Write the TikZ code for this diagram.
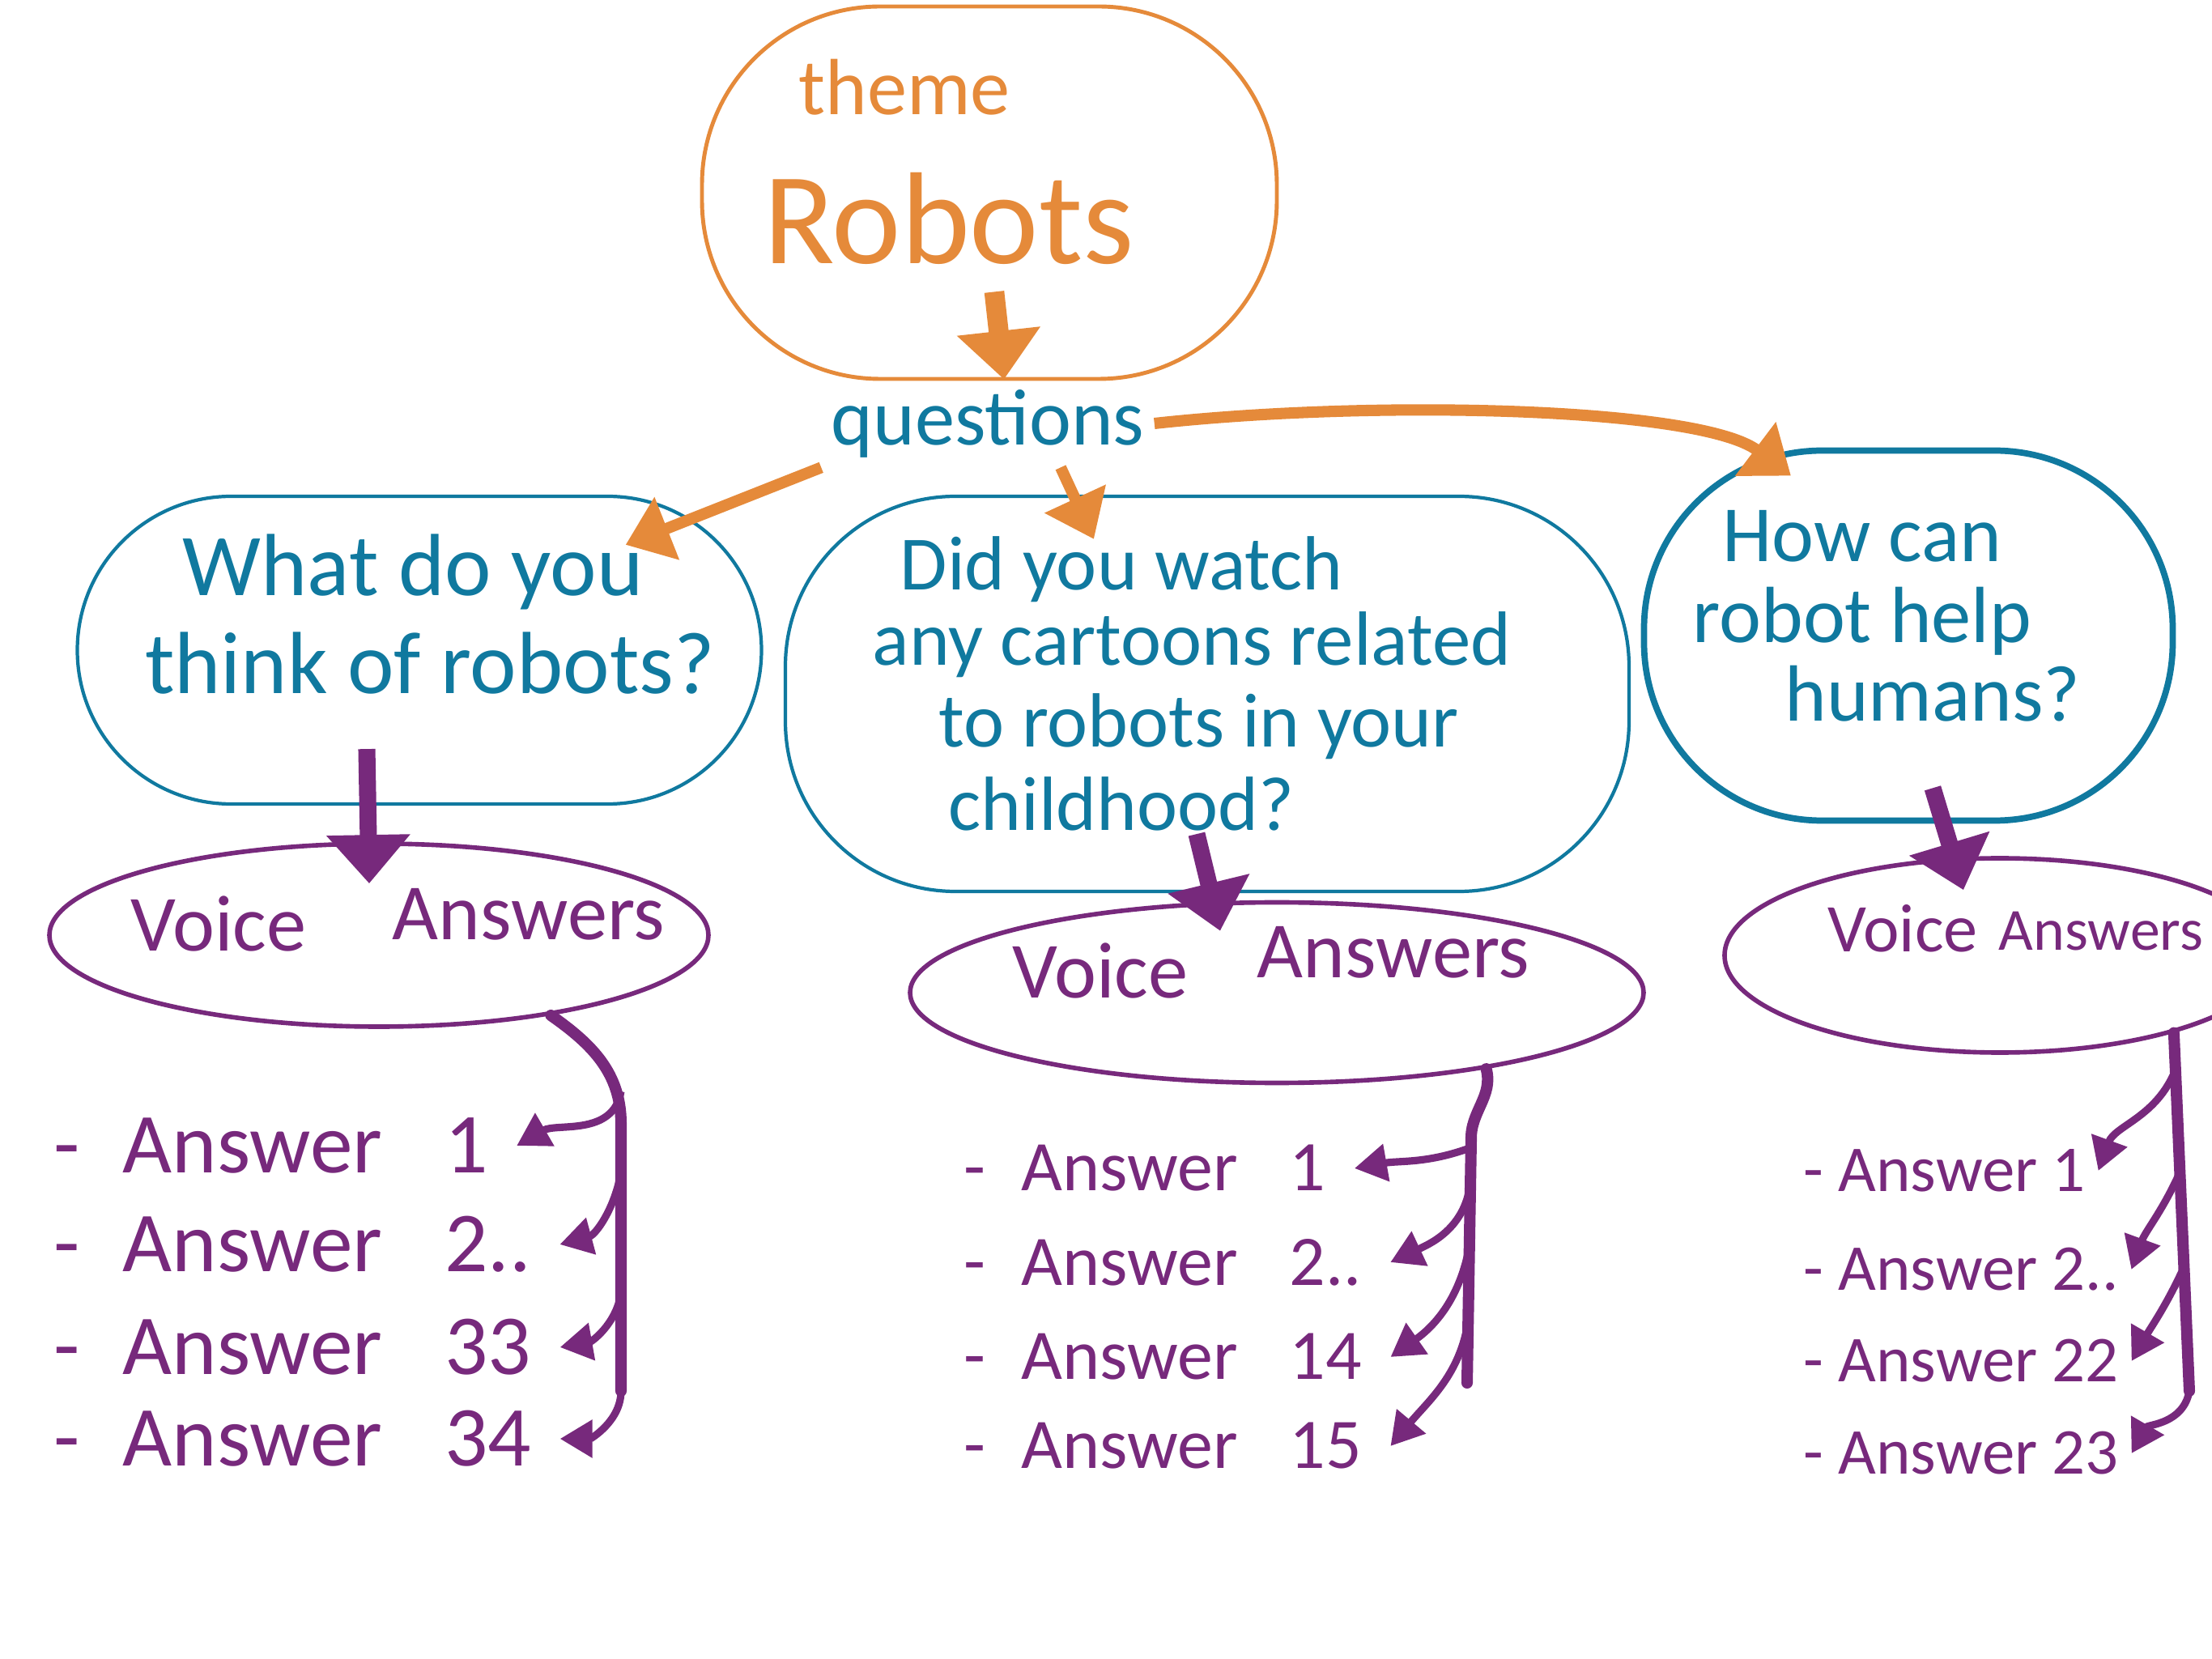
\documentclass[tikz,border=0pt]{standalone}
\usepackage{fontspec}
\setmainfont{Carlito}
\usepackage{tikz}
\usetikzlibrary{arrows.meta,shapes.geometric}
\definecolor{orng}{HTML}{E58A3A}
\definecolor{qblue}{HTML}{10799F}
\definecolor{purp}{HTML}{77297C}

\begin{document}
\begin{tikzpicture}[
    bub/.style={draw=qblue,line width=1.2pt,rounded corners=#1},
    vans/.style={draw=purp,line width=1.6pt,ellipse},
    qtxt/.style={text=qblue,font=\fontsize{31}{34}\selectfont},
    vtxt/.style={text=purp,font=\fontsize{28}{30}\selectfont},
    atxt/.style={text=purp,anchor=west,inner xsep=0.35cm},
    oarr/.style={orng,line width=4pt,-{Triangle[length=0.55cm,width=0.8cm]}},
    parr/.style={purp,line width=6pt,-{Triangle[length=0.6cm,width=1cm]}},
    barr/.style={purp,line width=2.6pt,-{Triangle[length=0.4cm,width=0.45cm]}},
    trunk/.style={purp,line width=4pt,line cap=round}]
\useasboundingbox(0,0)rectangle(27.32,20.48);

% theme
\node[draw=orng,line width=1.4pt,rounded corners=2.2cm,minimum width=7.1cm,minimum height=4.6cm](theme)at(12.22,18.1){};
\node[text=orng,font=\fontsize{28}{30}\selectfont](themet)at(11.17,19.4){theme};
\node[text=orng,font=\fontsize{46}{50}\selectfont](robots)at(11.72,17.78){Robots};
\node[qtxt,font=\fontsize{28}{30}\selectfont](quest)at(12.2,15.25){questions};
\draw[oarr,line width=7pt,-{Triangle[length=0.6cm,width=1cm]}]([xshift=0.06cm,yshift=1.1cm]theme.south)--([xshift=0.2cm]quest.north);

% question bubbles
\node[bub=1.9cm,minimum width=8.45cm,minimum height=3.8cm](q1)at(5.18,12.45){};
\node[bub=2.1cm,minimum width=10.42cm,minimum height=4.88cm](q2)at(14.91,11.91){};
\node[bub=2.2cm,line width=2.2pt,minimum width=6.53cm,minimum height=4.57cm](q3)at(23.57,12.63){};
\foreach\s/\x/\y[count=\i] in{What do you/5.10/13.42,think of robots?/5.31/12.29}{\node[qtxt](q1l\i)at(\x,\y){\s};}
\foreach\s/\x/\y[count=\i] in{Did you watch/13.85/13.45,any cartoons related/14.72/12.52,to robots in your/14.81/11.51,childhood?/13.85/10.55}{\node[qtxt,font=\fontsize{27}{30}\selectfont](q2l\i)at(\x,\y){\s};}
\foreach\s/\x/\y[count=\i] in{How can/23.0/13.86,robot help/23.0/12.81,humans?/23.87/11.91}{\node[qtxt,font=\fontsize{28}{30}\selectfont](q3l\i)at(\x,\y){\s};}

\draw[oarr](quest.south west)--([xshift=-1.7cm,yshift=-0.62cm]q1.north east);
\draw[oarr]([xshift=0.9cm]quest.south)--([xshift=-1.4cm,yshift=-0.55cm]q2.north);
\draw[oarr](quest.east)..controls(17,15.55)and(21,15.45)..([xshift=-1.45cm,yshift=-0.35cm]q3.north);

% voice answers
\node[vans,minimum width=8.14cm,minimum height=2.26cm](v1)at(4.68,8.93){};
\node[vans,minimum width=9.06cm,minimum height=2.23cm](v2)at(15.77,8.22){};
\node[vans,minimum width=6.8cm,minimum height=2.4cm](v3)at(24.7,8.68){};
\node[vtxt](v1a)at(2.70,9.07){Voice};\node[vtxt](v1b)at(6.53,9.19){Answers};
\node[vtxt](v2a)at(13.59,8.49){Voice};\node[vtxt](v2b)at(17.21,8.72){Answers};
\node[vtxt,font=\fontsize{24}{26}\selectfont](v3a)at(23.5,9.01){Voice};
\node[vtxt,font=\fontsize{21}{24}\selectfont](v3b)at(25.95,8.98){Answers};

\draw[parr]([xshift=-0.65cm,yshift=0.7cm]q1.south)--([xshift=-0.12cm,yshift=-0.52cm]v1.north);
\draw[parr]([xshift=-0.13cm,yshift=0.73cm]q2.south)--([xshift=-0.7cm,yshift=-0.38cm]v2.north);
\draw[parr]([xshift=0.3cm,yshift=0.44cm]q3.south)--([xshift=-0.45cm,yshift=-0.42cm]v3.north);

% answer lists
\foreach\n/\y[count=\i] in{1/6.33,{2..}/5.11,33/3.84,34/2.71}{\node[atxt,font=\fontsize{30}{32}\selectfont](a1\i)at(0.31,\y){-\enskip Answer\enskip\ \n};}
\foreach\n/\y[count=\i] in{1/6.05,{2..}/4.89,14/3.72,15/2.62}{\node[atxt,font=\fontsize{25}{28}\selectfont](a2\i)at(11.55,\y){-\enskip Answer\enskip\ \n};}
\foreach\n/\y[count=\i] in{1/6.02,{2..}/4.80,22/3.67,23/2.53}{\node[atxt,inner xsep=0.15cm,font=\fontsize{23}{26}\selectfont](a3\i)at(22.12,\y){-\ Answer\ \n};}

\coordinate(t1)at(7.67,3.3);
\draw[trunk](v1.-25)to[out=-35,in=90](7.67,6.6)--(t1);
\foreach\i/\y/\a in{1/7.0/30,2/6.0/15,3/4.5/10}{\coordinate(b1\i)at(7.67,\y);\draw[barr](b1\i)to[out=-100,in=\a](a1\i.east);}
\draw[barr](t1)to[out=-90,in=0](a14.east);

\coordinate(t2)at(18.12,3.4);
\draw[trunk](v2.-20)to[out=-75,in=92](18.17,6.4)--(t2);
\foreach\i/\y/\o/\a in{1/6.3/-160/10,2/5.8/-100/25,3/5.1/-100/35,4/4.3/-95/50}{\coordinate(b2\i)at(18.15,\y);\draw[barr](b2\i)to[out=\o,in=\a](a2\i.east);}

\coordinate(t3)at(27.04,3.3);
\draw[trunk](v3.-24)--(t3);
\foreach\i/\x/\y/\a in{1/26.84/7.2/70,2/26.9/5.95/70,3/26.96/4.8/60}{\coordinate(b3\i)at(\x,\y);\draw[barr](b3\i)to[out=-115,in=\a](a3\i.east);}
\draw[barr](t3)to[out=-100,in=60](a34.east);
\end{tikzpicture}
\end{document}
